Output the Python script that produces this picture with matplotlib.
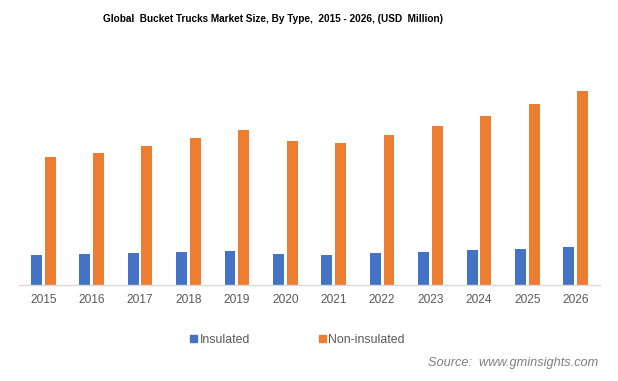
import matplotlib
matplotlib.use("Agg")
import matplotlib.pyplot as plt
import numpy as np
from matplotlib.patches import Patch
from matplotlib import font_manager

years = ["2015", "2016", "2017", "2018", "2019", "2020",
         "2021", "2022", "2023", "2024", "2025", "2026"]
insulated = [29.7, 30.7, 31.7, 32.7, 33.7, 30.7, 29.7, 31.7, 32.7, 34.7, 35.7, 37.7]
non_insulated = [127.7, 131.7, 138.7, 146.7, 154.7, 143.7, 141.7, 149.7, 158.7, 168.7, 180.7, 193.7]

BLUE = "#4472C4"
ORANGE = "#ED7D31"

plt.rcParams['font.family'] = ['Liberation Sans', 'DejaVu Sans']
names = {f.name for f in font_manager.fontManager.ttflist}
title_family = ['Liberation Sans Narrow'] if 'Liberation Sans Narrow' in names else ['Liberation Sans']
title_size = 8.6 if 'Liberation Sans Narrow' in names else 7.2

W, H = 618, 381
fig = plt.figure(figsize=(W / 100, H / 100), dpi=100)
base = 284.7
top_px = 60
ax = fig.add_axes([19 / W, (H - base) / H, (600 - 19) / W, (base - top_px) / H])

x = np.arange(len(years))
bw = 0.225
gap = 0.06
ax.bar(x - (bw + gap) / 2, insulated, width=bw, color=BLUE)
ax.bar(x + (bw + gap) / 2, non_insulated, width=bw, color=ORANGE)

ax.set_xlim(-0.5, len(years) - 0.5)
ax.set_ylim(0, base - top_px)
ax.set_xticks(x)
ax.set_xticklabels(years, fontsize=8.6, color="#595959")
ax.tick_params(axis='x', length=0, pad=7)
ax.set_yticks([])
for s in ["top", "right", "left"]:
    ax.spines[s].set_visible(False)
ax.spines["bottom"].set_color("#D9D9D9")
ax.spines["bottom"].set_linewidth(1)

fig.text(273 / W, 1 - 19 / H, "Global  Bucket Trucks Market Size, By Type,  2015 - 2026, (USD  Million)",
         ha="center", va="center", fontsize=title_size, fontweight="bold", color="#000000",
         family=title_family)

handles = [Patch(color=BLUE, label="Insulated"), Patch(color=ORANGE, label="Non-insulated")]
fig.legend(handles=handles, loc="center left", bbox_to_anchor=(179 / W, 1 - 340 / H),
           ncol=2, frameon=False, fontsize=8.9, handlelength=0.55, handleheight=0.55,
           handletextpad=0.2, columnspacing=5.6, labelcolor="#595959")

fig.text(598 / W, 1 - 363 / H, "Source:  www.gminsights.com", ha="right", va="center",
         fontsize=9.2, style="italic", color="#7F7F7F")

fig.savefig("out.png", dpi=100)
